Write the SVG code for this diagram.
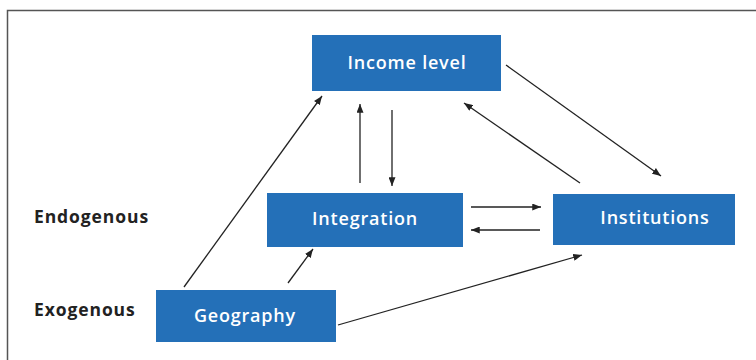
<svg xmlns="http://www.w3.org/2000/svg" width="756" height="360" viewBox="0 0 756 360">
<style>
.box{fill:#2470b8}
.lbl{font-family:"Open Sans","Liberation Sans",sans-serif;font-weight:600;font-size:18px;fill:#fff;text-anchor:middle;letter-spacing:0.8px}
.side{font-family:"Open Sans","Liberation Sans",sans-serif;font-weight:bold;font-size:17.5px;fill:#222;letter-spacing:0.9px}
.c{stroke:#222;stroke-width:1.3;fill:none;marker-end:url(#ah)}
</style>
<defs>
<marker id="ah" viewBox="0 0 10 8" refX="10" refY="4" markerWidth="9" markerHeight="7" markerUnits="userSpaceOnUse" orient="auto">
<path d="M0,0 L10,4 L0,8 Z" fill="#222"/>
</marker>
</defs>
<rect width="756" height="360" fill="#fff"/>
<path d="M7.5,361 V10.5 H756" fill="none" stroke="#555" stroke-width="1.5"/>
<g id="labels">
<text class="side" x="34" y="223">Endogenous</text>
<text class="side" x="34" y="316">Exogenous</text>
</g>
<g id="income">
<rect class="box" x="312" y="35" width="189" height="56"/>
<text class="lbl" x="407" y="69">Income level</text>
</g>
<g id="integration">
<rect class="box" x="267" y="193" width="196" height="54"/>
<text class="lbl" x="365" y="225">Integration</text>
</g>
<g id="institutions">
<rect class="box" x="553" y="194" width="182" height="51"/>
<text class="lbl" x="655" y="224">Institutions</text>
</g>
<g id="geography">
<rect class="box" x="156" y="290" width="180" height="52"/>
<text class="lbl" x="245" y="322">Geography</text>
</g>
<g id="connectors">
<line class="c" x1="184" y1="287" x2="322" y2="96"/>
<line class="c" x1="288" y1="283" x2="313" y2="249"/>
<line class="c" x1="338" y1="325" x2="582" y2="255"/>
<line class="c" x1="360" y1="183" x2="360" y2="104"/>
<line class="c" x1="392" y1="110" x2="392" y2="186"/>
<line class="c" x1="506" y1="65" x2="661" y2="176"/>
<line class="c" x1="580" y1="183" x2="464" y2="103"/>
<line class="c" x1="471" y1="207" x2="541" y2="207"/>
<line class="c" x1="540" y1="230" x2="471" y2="230"/>
</g>
</svg>
